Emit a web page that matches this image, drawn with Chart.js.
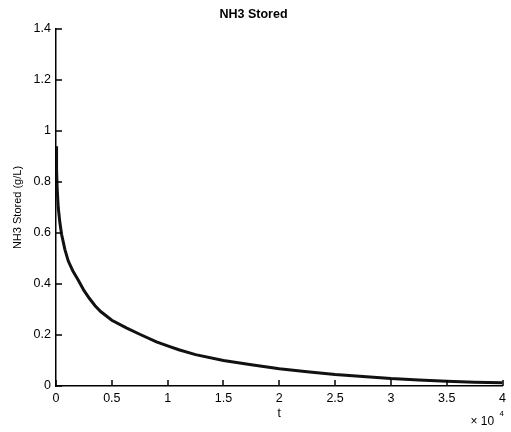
<!DOCTYPE html>
<html>
<head>
<meta charset="utf-8">
<title>NH3 Stored</title>
<script src="https://cdn.jsdelivr.net/npm/chart.js@4/dist/chart.umd.min.js"></script>
<style>
  html, body { margin: 0; padding: 0; background: #fff; }
  canvas { display: block; }
</style>
</head>
<body>
<canvas id="chart" width="511" height="432"></canvas>
<script>
// values (t in seconds)
const timeValues = [0, 50, 100, 200, 350, 500, 800, 1100, 1500, 2000, 2500, 3000, 3500, 4000, 5000, 6300, 7500, 9000, 10000, 11000, 12500, 15000, 17500, 20000, 22500, 25000, 27500, 30000, 32500, 35000, 37500, 40000];
const storedValues = [0.94, 0.85, 0.78, 0.70, 0.64, 0.595, 0.535, 0.49, 0.452, 0.415, 0.375, 0.343, 0.315, 0.292, 0.258, 0.228, 0.203, 0.173, 0.157, 0.142, 0.123, 0.10, 0.083, 0.068, 0.056, 0.045, 0.037, 0.029, 0.024, 0.019, 0.015, 0.013];
const xTickValues = [0, 5000, 10000, 15000, 20000, 25000, 30000, 35000, 40000];
const yTickValues = [0, 0.2, 0.4, 0.6, 0.8, 1, 1.2, 1.4];

const chartCanvas = document.querySelector("#chart");
const fontFamily = "'Liberation Sans', Arial, sans-serif";

const points = timeValues.map((t, i) => ({ x: t, y: storedValues[i] }));

// matlab style tick marks pointing into the plot, plus the x10^4 exponent
const matlabAxes = {
    id: "matlabAxes",
    afterDraw(chart) {
        const ctx = chart.ctx;
        const xScale = chart.scales.x;
        const yScale = chart.scales.y;
        const area = chart.chartArea;
        ctx.save();
        ctx.strokeStyle = "#000";
        ctx.lineWidth = 1.5;
        ctx.beginPath();
        xTickValues.forEach(v => {
            const px = Math.round(xScale.getPixelForValue(v));
            ctx.moveTo(px, area.bottom);
            ctx.lineTo(px, area.bottom - 6);
        });
        yTickValues.forEach(v => {
            const py = Math.round(yScale.getPixelForValue(v));
            ctx.moveTo(area.left, py);
            ctx.lineTo(area.left + 6, py);
        });
        ctx.stroke();

        ctx.fillStyle = "#000";
        ctx.textBaseline = "alphabetic";
        ctx.textAlign = "left";
        ctx.font = "12px " + fontFamily;
        ctx.fillText("\u00d7 10", xScale.right - 32, 425);
        ctx.font = "8px " + fontFamily;
        ctx.fillText("4", xScale.right - 3, 416);
        ctx.restore();
    }
};

const chartOptions = {
    type: "line",
    plugins: [matlabAxes],
    data: {
        datasets: [{
            data: points,
            borderColor: "#111",
            borderWidth: 3,
            pointRadius: 0,
            tension: 0,
            fill: false,
        }],
    },
    options: {
        responsive: false,
        animation: false,
        layout: { padding: { left: 0, right: 4, top: 0, bottom: 0 } },
        plugins: {
            legend: { display: false },
            tooltip: { enabled: false },
            title: {
                display: true,
                text: "NH3 Stored",
                color: "#000",
                font: { family: fontFamily, size: 12.5, weight: "bold" },
                padding: { top: 7, bottom: 7 },
            },
        },
        scales: {
            x: {
                type: "linear",
                min: 0,
                max: 40000,
                afterFit: s => { s.height = 46; },
                afterBuildTicks: s => { s.ticks = xTickValues.map(v => ({ value: v })); },
                grid: { display: false, drawTicks: false },
                border: { display: true, color: "#000", width: 1.5 },
                ticks: {
                    color: "#000",
                    padding: 5,
                    maxRotation: 0,
                    font: { family: fontFamily, size: 12.5 },
                    callback: v => String(v / 10000),
                },
                title: {
                    display: true,
                    text: "t",
                    color: "#000",
                    font: { family: fontFamily, size: 12 },
                    padding: { top: 0, bottom: 11 },
                },
            },
            y: {
                min: 0,
                max: 1.4,
                afterFit: s => { s.width = 56; },
                afterBuildTicks: s => { s.ticks = yTickValues.map(v => ({ value: v })); },
                grid: { display: false, drawTicks: false },
                border: { display: true, color: "#000", width: 1.5 },
                ticks: {
                    color: "#000",
                    padding: 5,
                    font: { family: fontFamily, size: 12.5 },
                    callback: v => String(Number(v.toFixed(1))),
                },
                title: {
                    display: true,
                    text: "NH3 Stored (g/L)",
                    color: "#000",
                    font: { family: fontFamily, size: 11 },
                    padding: { top: 11, bottom: 0 },
                },
            },
        },
    },
};

let chartInstance = new Chart(chartCanvas, chartOptions);
</script>
</body>
</html>
